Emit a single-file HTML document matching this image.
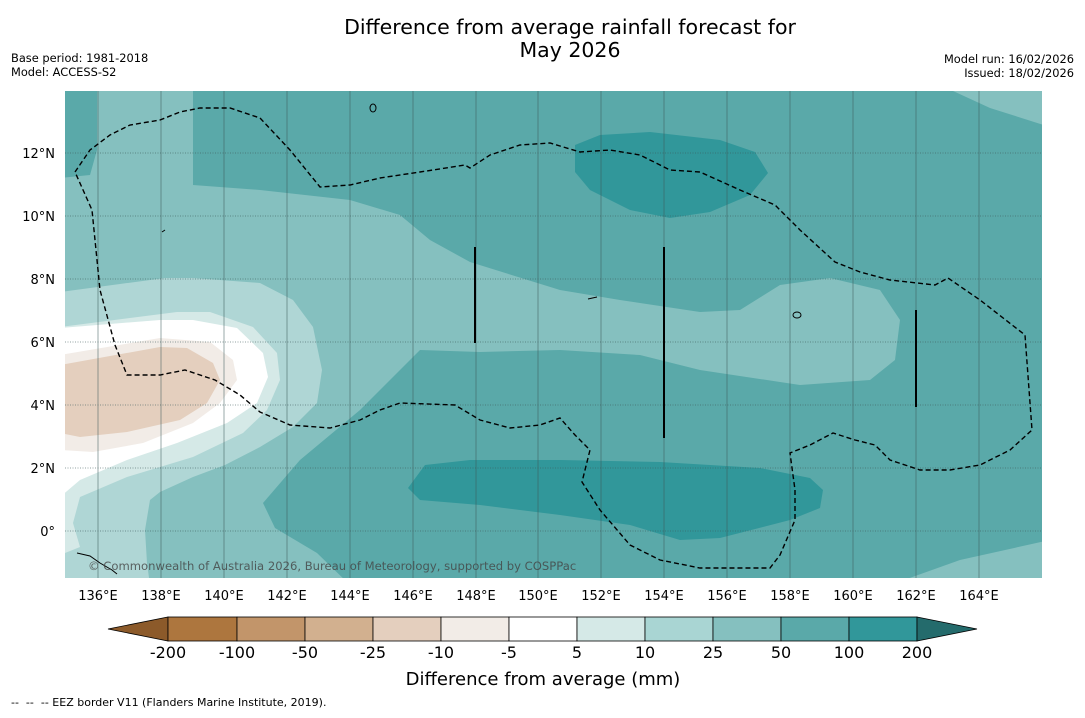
<!DOCTYPE html>
<html><head><meta charset="utf-8"><style>
body{margin:0;background:#fff;width:1085px;height:713px;overflow:hidden;font-family:"Liberation Sans","DejaVu Sans",sans-serif;}
</style></head><body>
<svg width="1085" height="713" xmlns="http://www.w3.org/2000/svg" font-family="DejaVu Sans, Liberation Sans, sans-serif">
<text x="570" y="34" font-size="20.5" text-anchor="middle">Difference from average rainfall forecast for</text>
<text x="570" y="57" font-size="20.5" text-anchor="middle">May 2026</text>
<text x="11" y="62" font-size="11.4">Base period: 1981-2018</text>
<text x="11" y="76" font-size="11.4">Model: ACCESS-S2</text>
<text x="1074" y="63" font-size="11.4" text-anchor="end">Model run: 16/02/2026</text>
<text x="1074" y="77" font-size="11.4" text-anchor="end">Issued: 18/02/2026</text>
<defs><clipPath id="mc"><rect x="65" y="91" width="977" height="487"/></clipPath></defs>
<g clip-path="url(#mc)">
<rect x="65" y="91" width="977" height="487" fill="#5aa9a9"/>
<path fill="#85c0bf" d="M97,85 L193,85 L193,185 L260,190 L350,200 L400,215 L430,240 L470,262 L560,290 L620,300 L700,312 L740,310 L780,285 L830,278 L880,290 L900,320 L895,360 L870,380 L800,385 L700,370 L640,355 L560,350 L480,352 L420,350 L360,410 L300,460 L263,503 L275,528 L317,553 L350,585 L60,585 L60,178 L90,175 L97,150 Z"/>
<path fill="#85c0bf" d="M940,85 L1050,85 L1050,127 L990,108 Z"/>
<path fill="#85c0bf" d="M890,585 L960,560 L1050,540 L1050,585 Z"/>
<path fill="#afd6d5" d="M60,292 L120,284 L165,278 L193,278 L260,283 L293,300 L313,327 L322,370 L317,403 L293,427 L260,447 L225,465 L193,477 L160,492 L150,500 L145,530 L147,563 L150,585 L60,585 Z"/>
<path fill="#d5e9e7" d="M60,327 L177,312 L210,312 L253,327 L277,353 L280,380 L267,410 L243,433 L193,457 L127,477 L80,497 L73,523 L80,547 L60,555 Z"/>
<path fill="#ffffff" d="M60,328 L160,320 L193,320 L237,328 L263,353 L268,377 L257,403 L227,423 L177,443 L127,460 L80,480 L60,497 Z"/>
<path fill="#f2ece7" d="M60,355 L160,338 L210,342 L233,360 L237,380 L220,403 L193,423 L143,443 L93,452 L60,450 Z"/>
<path fill="#e4cfbe" d="M60,365 L160,347 L187,348 L213,363 L220,380 L207,403 L180,420 L127,432 L80,437 L60,433 Z"/>
<path fill="#31979a" d="M575,145 L600,135 L650,132 L720,140 L755,152 L768,173 L750,195 L710,212 L670,218 L630,210 L590,190 L575,172 Z"/>
<path fill="#31979a" d="M408,488 L425,465 L470,460 L560,460 L660,462 L760,468 L810,478 L823,490 L820,508 L790,520 L720,538 L680,540 L630,525 L560,515 L480,505 L420,500 Z"/>
<g stroke="#3c5a5a" stroke-width="0.7" opacity="0.75">
<line x1="98" y1="91" x2="98" y2="578"/><line x1="161" y1="91" x2="161" y2="578"/><line x1="224" y1="91" x2="224" y2="578"/><line x1="287" y1="91" x2="287" y2="578"/><line x1="350" y1="91" x2="350" y2="578"/><line x1="413" y1="91" x2="413" y2="578"/><line x1="476" y1="91" x2="476" y2="578"/><line x1="538" y1="91" x2="538" y2="578"/><line x1="601" y1="91" x2="601" y2="578"/><line x1="664" y1="91" x2="664" y2="578"/><line x1="727" y1="91" x2="727" y2="578"/><line x1="790" y1="91" x2="790" y2="578"/><line x1="853" y1="91" x2="853" y2="578"/><line x1="916" y1="91" x2="916" y2="578"/><line x1="979" y1="91" x2="979" y2="578"/>
</g>
<g stroke="#3c5a5a" stroke-width="0.8" stroke-dasharray="1,1.5" opacity="0.75">
<line x1="65" y1="153" x2="1042" y2="153"/><line x1="65" y1="216" x2="1042" y2="216"/><line x1="65" y1="279" x2="1042" y2="279"/><line x1="65" y1="342" x2="1042" y2="342"/><line x1="65" y1="405" x2="1042" y2="405"/><line x1="65" y1="468" x2="1042" y2="468"/><line x1="65" y1="531" x2="1042" y2="531"/>
</g>
<path fill="none" stroke="#000" stroke-width="1.4" stroke-dasharray="5,3" d="M75,172 L90,150 L110,135 L130,125 L160,120 L180,112 L200,108 L230,108 L260,118 L290,150 L320,187 L350,185 L380,178 L420,172 L465,165 L470,168 L490,155 L520,145 L550,143 L580,152 L610,150 L640,155 L670,170 L700,172 L740,190 L775,205 L800,230 L835,262 L860,272 L890,280 L935,285 L948,278 L980,300 L1025,335 L1032,430 L1010,450 L980,465 L950,470 L920,470 L890,460 L875,445 L855,440 L833,433 L810,445 L790,453 L795,490 L795,520 L780,555 L770,568 L700,568 L660,560 L630,545 L600,510 L582,482 L590,450 L575,435 L560,418 L540,425 L510,428 L480,420 L455,405 L400,403 L380,410 L360,420 L330,428 L290,425 L260,412 L240,395 L215,380 L185,370 L160,375 L127,375 L115,345 L100,290 L92,210 Z"/>
<g stroke="#000" stroke-width="2">
<line x1="475" y1="247" x2="475" y2="343"/><line x1="664" y1="247" x2="664" y2="438"/><line x1="916" y1="310" x2="916" y2="407"/>
</g>
<g fill="none" stroke="#000" stroke-width="1">
<ellipse cx="373" cy="108" rx="3" ry="4"/><ellipse cx="797" cy="315" rx="4" ry="3"/><path d="M588,299 L597,297"/><path d="M77,553 L90,556 L100,563 L112,570 L117,574"/><path d="M162,232 L165,230"/>
</g>
<text x="88" y="570" font-size="11.6" fill="#444" opacity="0.8">© Commonwealth of Australia 2026, Bureau of Meteorology, supported by COSPPac</text>
</g>
<g font-size="13" fill="#000">
<text x="55" y="158" text-anchor="end">12°N</text><text x="55" y="221" text-anchor="end">10°N</text><text x="55" y="284" text-anchor="end">8°N</text><text x="55" y="347" text-anchor="end">6°N</text><text x="55" y="410" text-anchor="end">4°N</text><text x="55" y="473" text-anchor="end">2°N</text><text x="55" y="536" text-anchor="end">0°</text>
</g>
<g font-size="13" fill="#000" text-anchor="middle">
<text x="98" y="600">136°E</text><text x="161" y="600">138°E</text><text x="224" y="600">140°E</text><text x="287" y="600">142°E</text><text x="350" y="600">144°E</text><text x="413" y="600">146°E</text><text x="476" y="600">148°E</text><text x="538" y="600">150°E</text><text x="601" y="600">152°E</text><text x="664" y="600">154°E</text><text x="727" y="600">156°E</text><text x="790" y="600">158°E</text><text x="853" y="600">160°E</text><text x="916" y="600">162°E</text><text x="979" y="600">164°E</text>
</g>
<g stroke="#000" stroke-width="0.8">
<polygon points="108,629 168,617 168,641" fill="#8c5a2a"/>
<rect x="168" y="617" width="69" height="24" fill="#ad763e"/>
<rect x="237" y="617" width="68" height="24" fill="#c2956a"/>
<rect x="305" y="617" width="68" height="24" fill="#d2b08f"/>
<rect x="373" y="617" width="68" height="24" fill="#e4cfbe"/>
<rect x="441" y="617" width="68" height="24" fill="#f2ece7"/>
<rect x="509" y="617" width="68" height="24" fill="#ffffff"/>
<rect x="577" y="617" width="68" height="24" fill="#d5e9e7"/>
<rect x="645" y="617" width="68" height="24" fill="#a9d5d3"/>
<rect x="713" y="617" width="68" height="24" fill="#85c0bf"/>
<rect x="781" y="617" width="68" height="24" fill="#5aa9a9"/>
<rect x="849" y="617" width="68" height="24" fill="#31979a"/>
<polygon points="917,617 977,629 917,641" fill="#246b6c"/>
</g>
<g font-size="16" text-anchor="middle">
<text x="168" y="658">-200</text><text x="237" y="658">-100</text><text x="305" y="658">-50</text><text x="373" y="658">-25</text><text x="441" y="658">-10</text><text x="509" y="658">-5</text><text x="577" y="658">5</text><text x="645" y="658">10</text><text x="713" y="658">25</text><text x="781" y="658">50</text><text x="849" y="658">100</text><text x="917" y="658">200</text>
</g>
<text x="543" y="685" font-size="18" text-anchor="middle">Difference from average (mm)</text>
<text x="11" y="706" font-size="11" xml:space="preserve">--  --  -- EEZ border V11 (Flanders Marine Institute, 2019).</text>
</svg>
</body></html>
